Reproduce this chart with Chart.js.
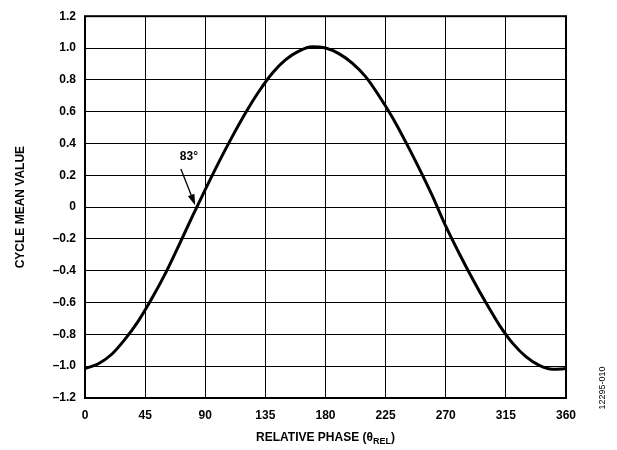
<!DOCTYPE html>
<html>
<head>
<meta charset="utf-8">
<script src="https://cdn.jsdelivr.net/npm/chart.js@4/dist/chart.umd.min.js"></script>
<style>
  html, body { margin: 0; padding: 0; background: #fff; }
  #wrap { width: 617px; height: 450px; }
</style>
</head>
<body>
<div id="wrap"><canvas id="chart"></canvas></div>
<script>
// values
const phase = [0, 10, 20, 30, 40, 50, 60, 70, 80, 90, 100, 110, 120, 130, 140, 150, 160, 170, 180,
  190, 200, 210, 220, 230, 240, 250, 260, 270, 280, 290, 300, 310, 320, 330, 340, 350, 360];
const meanValue = [-1.015, -0.985, -0.925, -0.83, -0.715, -0.575, -0.42, -0.245, -0.065, 0.11, 0.28, 0.44, 0.59, 0.725, 0.84, 0.925, 0.98, 1.008, 1.0,
  0.965, 0.905, 0.82, 0.7, 0.565, 0.41, 0.245, 0.07, -0.12, -0.29, -0.45, -0.6, -0.74, -0.855, -0.94, -0.995, -1.02, -1.015];
const xTickLabels = ["0", "45", "90", "135", "180", "225", "270", "315", "360"];
const yTickLabels = ["\u20131.2", "\u20131.0", "\u20130.8", "\u20130.6", "\u20130.4", "\u20130.2", "0", "0.2", "0.4", "0.6", "0.8", "1.0", "1.2"];
const markPhase = 83;
const markLabel = "83\u00b0";

const FONT = "'Liberation Sans', Arial, sans-serif";

const decorations = {
  id: "decorations",
  afterDraw(chart) {
    const ctx = chart.ctx;
    const area = chart.chartArea;
    const xs = chart.scales.x, ys = chart.scales.y;
    ctx.save();
    ctx.fillStyle = "#000";
    ctx.strokeStyle = "#000";

    // x title with subscript
    const base = "RELATIVE PHASE (\u03b8";
    const sub = "REL";
    const tail = ")";
    ctx.font = "bold 12px " + FONT;
    const w1 = ctx.measureText(base).width;
    const w3 = ctx.measureText(tail).width;
    ctx.font = "bold 9px " + FONT;
    const w2 = ctx.measureText(sub).width;
    const cx = (area.left + area.right) / 2;
    const x0 = cx - (w1 + w2 + w3) / 2;
    const ty = 441;
    ctx.textBaseline = "alphabetic";
    ctx.textAlign = "left";
    ctx.font = "bold 12px " + FONT;
    ctx.fillText(base, x0, ty);
    ctx.font = "bold 9px " + FONT;
    ctx.fillText(sub, x0 + w1, ty + 3);
    ctx.font = "bold 12px " + FONT;
    ctx.fillText(tail, x0 + w1 + w2, ty);

    // y title
    ctx.save();
    ctx.translate(21, (area.top + area.bottom) / 2);
    ctx.rotate(-Math.PI / 2);
    ctx.textAlign = "center";
    ctx.textBaseline = "middle";
    ctx.font = "bold 12px " + FONT;
    ctx.fillText("CYCLE MEAN VALUE", 0, 0);
    ctx.restore();

    // figure id
    ctx.save();
    ctx.translate(603, 388);
    ctx.rotate(-Math.PI / 2);
    ctx.textAlign = "center";
    ctx.textBaseline = "middle";
    ctx.font = "9px " + FONT;
    ctx.fillText("12295-010", 0, 0);
    ctx.restore();

    // 83° annotation with arrow to the zero crossing
    const px = xs.getPixelForValue(markPhase);
    const py = ys.getPixelForValue(0);
    const sx = px - 15, sy = py - 38;
    ctx.font = "bold 12px " + FONT;
    ctx.textAlign = "center";
    ctx.textBaseline = "middle";
    ctx.fillText(markLabel, px - 7, py - 50);
    const ang = Math.atan2(py - sy, px - sx);
    const ex = px - Math.cos(ang) * 2, ey = py - Math.sin(ang) * 2;
    ctx.lineWidth = 1.3;
    ctx.beginPath();
    ctx.moveTo(sx, sy);
    ctx.lineTo(ex - Math.cos(ang) * 8, ey - Math.sin(ang) * 8);
    ctx.stroke();
    ctx.beginPath();
    ctx.moveTo(ex, ey);
    ctx.lineTo(ex - Math.cos(ang) * 11 + Math.sin(ang) * 3.5, ey - Math.sin(ang) * 11 - Math.cos(ang) * 3.5);
    ctx.lineTo(ex - Math.cos(ang) * 11 - Math.sin(ang) * 3.5, ey - Math.sin(ang) * 11 + Math.cos(ang) * 3.5);
    ctx.closePath();
    ctx.fill();

    // plot frame
    ctx.lineWidth = 2;
    ctx.strokeRect(area.left, area.top, area.right - area.left, area.bottom - area.top);
    ctx.restore();
  }
};

new Chart(document.getElementById("chart"), {
  type: "line",
  data: {
    datasets: [{
      data: phase.map((p, i) => ({x: p, y: meanValue[i]})),
      borderColor: "#000",
      borderWidth: 3,
      pointRadius: 0,
      cubicInterpolationMode: "monotone",
      fill: false,
    }],
  },
  options: {
    responsive: true,
    maintainAspectRatio: false,
    animation: false,
    layout: { padding: { left: 0, right: 51, top: 15, bottom: 0 } },
    plugins: { legend: { display: false }, tooltip: { enabled: false } },
    scales: {
      x: {
        type: "linear",
        min: 0,
        max: 360,
        afterFit: (s) => { s.height = 52; },
        afterBuildTicks: (s) => { s.ticks = xTickLabels.map((t) => ({value: Number(t)})); },
        ticks: {
          callback: (v, i) => xTickLabels[i],
          color: "#000",
          padding: 10,
          maxRotation: 0,
          autoSkip: false,
          font: { family: FONT, size: 12, weight: "bold" },
        },
        grid: { color: "#000", lineWidth: 1, drawTicks: false },
        border: { display: false },
      },
      y: {
        type: "linear",
        min: -1.2,
        max: 1.2,
        afterFit: (s) => { s.width = 85; },
        afterBuildTicks: (s) => { s.ticks = yTickLabels.map((t, i) => ({value: -1.2 + i * 0.2})); },
        ticks: {
          callback: (v, i) => yTickLabels[i],
          color: "#000",
          padding: 9,
          autoSkip: false,
          font: { family: FONT, size: 12, weight: "bold" },
        },
        grid: { color: "#000", lineWidth: 1, drawTicks: false },
        border: { display: false },
      },
    },
  },
  plugins: [decorations],
});
</script>
</body>
</html>
